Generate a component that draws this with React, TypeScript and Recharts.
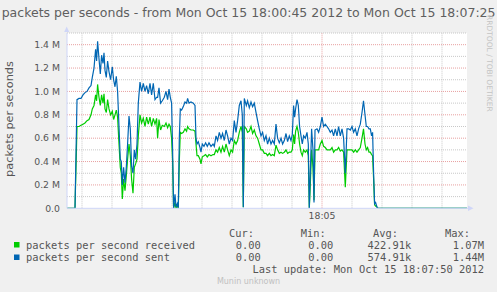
import React from "react";
import { LineChart, Line, XAxis, YAxis, ReferenceLine, CartesianGrid } from "recharts";

// seconds since 18:00:45
const times = [
  0, 8, 10, 12, 14, 16, 18, 20, 22, 24, 25.3, 27, 28.6, 29.6, 30.6, 32, 33.3, 34.6, 36, 37,
  38, 39.3, 40.6, 42, 43.6, 45.3, 46.6, 48, 49.3, 50.6, 52, 53.3, 54.3, 55.3, 56.6, 58, 59.3, 60.6, 62, 63.3,
  64.6, 66, 67.3, 68.6, 70, 71.3, 73, 74.6, 76.3, 78, 79.6, 81.3, 83, 84.6, 86.3, 88, 89.6, 90.6, 92, 93.6,
  95.3, 97.3, 99, 100.6, 102, 103.3, 104.6, 105.6, 106.6, 108, 109, 110.3, 111.3, 112.3, 113.3, 114.6, 116.3, 118, 119.6, 120.6,
  122, 124, 126.3, 128, 129, 130, 131.3, 133, 134, 135.3, 137, 138.6, 140.3, 142, 144, 146, 147.3, 149, 150.6, 152.3,
  154, 155.6, 157.3, 159, 160.6, 162.3, 164, 165.6, 167.3, 169, 170.6, 172.3, 174, 175.3, 176.3, 177.3, 179.3, 180.6, 182.3, 184,
  185.6, 187.3, 189, 190.6, 192.3, 194, 195.6, 197.3, 199, 200.6, 202.3, 204, 205.6, 207.3, 209, 210.6, 212.3, 214, 215.6, 217.3,
  219, 220.6, 222.3, 224, 225.3, 226.6, 227.6, 228.6, 230, 231.3, 232.6, 234, 235.3, 236.6, 238.3, 240, 241.3, 242.3, 243.3, 244.6,
  246, 247, 248, 250, 251.6, 253.3, 255, 256.6, 258.3, 260, 261.6, 263.3, 265, 266.6, 268.3, 270, 271.6, 273.3, 275, 276.6,
  278.3, 280, 281.6, 283.3, 285, 286.6, 288.3, 290, 291.6, 293.3, 295, 296.5, 298, 299.3, 300.6, 302, 303.3, 304.6, 305.6, 306.6,
  307.6, 308.6, 310, 311, 400,
];

// millions of packets per second
const received = [
  0, 0, 0.70, 0.70, 0.71, 0.72, 0.73, 0.75, 0.76, 0.80, 0.85, 0.88, 0.97, 0.92, 1.06, 0.95, 0.88, 0.97, 0.90, 0.98,
  0.85, 0.82, 0.93, 0.85, 0.80, 0.83, 0.76, 0.80, 0.84, 0.78, 0.55, 0.35, 0.30, 0.08, 0.25, 0.15, 0.28, 0.42, 0.55, 0.45,
  0.25, 0.13, 0.35, 0.38, 0.42, 0.62, 0.80, 0.73, 0.77, 0.70, 0.78, 0.72, 0.78, 0.70, 0.77, 0.72, 0.77, 0.60, 0.76, 0.67,
  0.71, 0.70, 0.73, 0.69, 0.72, 0.70, 0.60, 0.40, 0.00, 0.05, 0.00, 0.02, 0.00, 0.40, 0.65, 0.64, 0.65, 0.68, 0.66, 0.70,
  0.68, 0.67, 0.67, 0.66, 0.55, 0.45, 0.45, 0.42, 0.38, 0.44, 0.45, 0.46, 0.44, 0.46, 0.45, 0.46, 0.46, 0.50, 0.48, 0.52,
  0.48, 0.53, 0.48, 0.55, 0.50, 0.45, 0.50, 0.48, 0.58, 0.55, 0.58, 0.65, 0.70, 0.65, 0.01, 0.70, 0.68, 0.65, 0.66, 0.70,
  0.64, 0.67, 0.62, 0.60, 0.55, 0.50, 0.50, 0.47, 0.47, 0.45, 0.47, 0.45, 0.46, 0.45, 0.54, 0.50, 0.47, 0.48, 0.47, 0.48,
  0.50, 0.47, 0.48, 0.48, 0.50, 0.63, 0.55, 0.66, 0.70, 0.65, 0.55, 0.48, 0.45, 0.50, 0.48, 0.50, 0.45, 0.00, 0.20, 0.50,
  0.35, 0.07, 0.50, 0.50, 0.50, 0.55, 0.58, 0.53, 0.52, 0.50, 0.50, 0.50, 0.52, 0.48, 0.50, 0.50, 0.52, 0.49, 0.50, 0.48,
  0.18, 0.50, 0.50, 0.50, 0.50, 0.48, 0.50, 0.48, 0.50, 0.52, 0.60, 0.68, 0.55, 0.50, 0.52, 0.48, 0.48, 0.46, 0.45, 0.25,
  0.03, 0.02, 0.01, 0, 0,
];

const sent = [
  0, 0, 0.93, 0.94, 0.94, 0.97, 0.99, 1.00, 1.03, 1.05, 1.12, 1.20, 1.36, 1.26, 1.43, 1.28, 1.15, 1.31, 1.24, 1.33,
  1.18, 1.12, 1.26, 1.17, 1.10, 1.21, 1.10, 1.04, 1.13, 1.00, 0.70, 0.42, 0.40, 0.20, 0.35, 0.22, 0.35, 0.55, 0.79, 0.68,
  0.36, 0.30, 0.50, 0.42, 0.55, 0.90, 1.08, 1.00, 1.07, 1.00, 1.05, 0.98, 1.07, 0.97, 1.07, 0.93, 0.95, 0.95, 1.03, 0.90,
  0.92, 0.95, 1.00, 0.93, 1.02, 0.95, 0.90, 0.50, 0.00, 0.12, 0.01, 0.04, 0.00, 0.60, 0.85, 0.84, 0.87, 0.91, 0.90, 0.94,
  0.90, 0.91, 0.90, 0.88, 0.60, 0.55, 0.57, 0.52, 0.48, 0.55, 0.53, 0.56, 0.53, 0.56, 0.53, 0.55, 0.53, 0.62, 0.58, 0.65,
  0.60, 0.64, 0.58, 0.67, 0.62, 0.55, 0.60, 0.58, 0.75, 0.65, 0.75, 0.88, 0.92, 0.80, 0.01, 0.94, 0.88, 0.92, 0.86, 0.91,
  0.87, 0.90, 0.82, 0.75, 0.68, 0.62, 0.65, 0.58, 0.62, 0.55, 0.60, 0.55, 0.58, 0.55, 0.72, 0.60, 0.56, 0.60, 0.55, 0.58,
  0.64, 0.57, 0.62, 0.58, 0.63, 0.88, 0.78, 0.85, 0.93, 0.88, 0.70, 0.62, 0.55, 0.62, 0.60, 0.65, 0.55, 0.00, 0.30, 0.68,
  0.50, 0.05, 0.67, 0.68, 0.65, 0.70, 0.78, 0.70, 0.72, 0.70, 0.68, 0.65, 0.67, 0.62, 0.68, 0.62, 0.70, 0.62, 0.68, 0.60,
  0.30, 0.68, 0.68, 0.67, 0.70, 0.65, 0.68, 0.62, 0.68, 0.72, 0.82, 0.92, 0.80, 0.70, 0.70, 0.68, 0.68, 0.62, 0.65, 0.30,
  0.04, 0.05, 0.01, 0, 0,
];

const yTicks = [0, 0.2, 0.4, 0.6, 0.8, 1.0, 1.2, 1.4];
const yMinorGrid = [0.1, 0.3, 0.5, 0.7, 0.9, 1.1, 1.3, 1.5];
const xMinorGrid = [15, 45, 75, 105, 135, 165, 195, 225, 285, 315, 345, 375];
const xMajorTick = 255;
const xTickLabel = "18:05";

const title = "packets per seconds - from Mon Oct 15 18:00:45 2012 to Mon Oct 15 18:07:25";
const yLabel = "packets per seconds";
const legendHeaders = ["Cur:", "Min:", "Avg:", "Max:"];
const seriesNames = ["packets per second received", "packets per second sent"];
const seriesColors = ["#00CC00", "#0066B3"];
const receivedStats = ["0.00", "0.00", "422.91k", "1.07M"];
const sentStats = ["0.00", "0.00", "574.91k", "1.44M"];
const lastUpdate = "Last update: Mon Oct 15 18:07:50 2012";
const footer = "Munin unknown";
const watermark = "RRDTOOL / TOBI OETIKER";

const data = times.map((t, i) => ({ t, recv: received[i], sent: sent[i] }));

const FONT = "'DejaVu Sans', sans-serif";
const MONO = "'DejaVu Sans Mono', monospace";
const TXT = "#555555";
const AXIS = "#CFD6F8";

export default function App() {
  const headerX = [254, 325.7, 398, 470];
  const valueX = [260.7, 333.3, 411.3, 484];
  return (
    <div style={{ position: "absolute", left: 0, top: 0, width: 497, height: 292, background: "#F0F0F0", overflow: "hidden" }}>
      <LineChart width={497} height={292} data={data} margin={{ top: 33, right: 30, bottom: 63.7, left: 7 }}>
        <CartesianGrid horizontal={false} vertical={false} fill="#FFFFFF" fillOpacity={1} stroke="none" />
        {yMinorGrid.map((v) => (
          <ReferenceLine key={"ym" + v} y={v} stroke="#C8C8C8" strokeDasharray="1 1" strokeWidth={1} />
        ))}
        {xMinorGrid.map((v) => (
          <ReferenceLine key={"xm" + v} x={v} stroke="#C8C8C8" strokeDasharray="1 1" strokeWidth={1} />
        ))}
        {yTicks.filter((v) => v > 0).map((v) => (
          <ReferenceLine key={"yM" + v} y={v} stroke="#E8A0A0" strokeDasharray="1 1" strokeWidth={1} />
        ))}
        <ReferenceLine x={xMajorTick} stroke="#E8A0A0" strokeDasharray="1 1" strokeWidth={1} />
        <XAxis
          dataKey="t"
          type="number"
          domain={[0, 400]}
          ticks={[xMajorTick]}
          tickFormatter={() => xTickLabel}
          height={20}
          tickLine={false}
          tickSize={2}
          tickMargin={2.4}
          axisLine={{ stroke: AXIS }}
          tick={{ fill: TXT, fontSize: 9.3, fontFamily: FONT }}
          allowDataOverflow
        />
        <YAxis
          type="number"
          domain={[0, 1.5]}
          ticks={yTicks}
          tickFormatter={(v: number) => (v === 0 ? "0.0" : `${v.toFixed(1)} M`)}
          width={60}
          tickLine={false}
          tickSize={5}
          tickMargin={2}
          axisLine={{ stroke: AXIS }}
          tick={{ fill: TXT, fontSize: 9.3, fontFamily: FONT }}
          allowDataOverflow
        />
        <Line type="linear" dataKey="recv" stroke={seriesColors[0]} strokeWidth={1.2} dot={false} isAnimationActive={false} />
        <Line type="linear" dataKey="sent" stroke={seriesColors[1]} strokeWidth={1.2} dot={false} isAnimationActive={false} />
      </LineChart>
      <svg width={497} height={292} style={{ position: "absolute", left: 0, top: 0, pointerEvents: "none" }}>
        <text x={1.7} y={17.3} fontFamily={FONT} fontSize={12.5} fill="#5f5f5f">{title}</text>
        <text transform="translate(487,15) rotate(90)" fontFamily={FONT} fontSize={7.5} fill="#C4C4C4">{watermark}</text>
        <text transform="translate(12.5,119) rotate(-90)" textAnchor="middle" fontFamily={FONT} fontSize={11.3} fill={TXT}>{yLabel}</text>
        <polygon points="64.2,32 69.2,32 66.7,26.5" fill={AXIS} />
        <line x1={466.7} y1={208.3} x2={469} y2={208.3} stroke={AXIS} />
        <polygon points="468,205.6 468,211 473.5,208.3" fill={AXIS} />
        {legendHeaders.map((h, i) => (
          <text key={h} x={headerX[i]} y={237} textAnchor="end" fontFamily={MONO} fontSize={10.4} fill={TXT}>{h}</text>
        ))}
        <rect x={14} y={242} width={5.5} height={5.5} fill={seriesColors[0]} />
        <text x={26} y={249} fontFamily={MONO} fontSize={10.4} fill={TXT}>{seriesNames[0]}</text>
        {receivedStats.map((s, i) => (
          <text key={"r" + i} x={valueX[i]} y={249} textAnchor="end" fontFamily={MONO} fontSize={10.4} fill={TXT}>{s}</text>
        ))}
        <rect x={14} y={254.5} width={5.5} height={5.5} fill={seriesColors[1]} />
        <text x={26} y={261.3} fontFamily={MONO} fontSize={10.4} fill={TXT}>{seriesNames[1]}</text>
        {sentStats.map((s, i) => (
          <text key={"s" + i} x={valueX[i]} y={261.3} textAnchor="end" fontFamily={MONO} fontSize={10.4} fill={TXT}>{s}</text>
        ))}
        <text x={484} y={273.3} textAnchor="end" fontFamily={MONO} fontSize={10.4} fill={TXT}>{lastUpdate}</text>
        <text x={248.5} y={284} textAnchor="middle" fontFamily={FONT} fontSize={8} fill="#C0C0C0">{footer}</text>
      </svg>
    </div>
  );
}
